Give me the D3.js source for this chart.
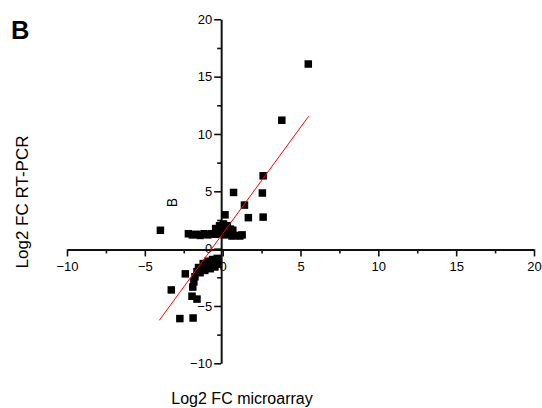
<!DOCTYPE html>
<html>
<head>
<meta charset="utf-8">
<script src="https://cdn.jsdelivr.net/npm/d3@7"></script>
<style>
  html, body { margin: 0; padding: 0; background: #fff; }
  svg { display: block; font-family: "Liberation Sans", Arial, sans-serif; }
</style>
</head>
<body>
<svg id="chart" width="542" height="408"></svg>
<script>
// Log2 fold change: microarray (x) against RT-PCR (y)
const xMicro = [
  5.5, 3.8, 2.6, 2.55, 0.7, 1.4, 1.65, 2.6, 0.15, -4.0,
  -2.2, -1.95, -1.7, -1.45, -1.2, -0.95, -0.7, -0.45, -0.2, 0.1, 0.35, 0.6, 0.85, 1.1, 1.25,
  -0.45, -0.2, 0.05, 0.3, 0.5, -0.05, 0.25, 0.65,
  -0.35, -0.35, -0.65, -0.65, -0.95, -0.95, -1.25, -1.35, -1.55,
  -1.15, -0.8, -0.5, -1.45,
  -2.4, -1.65, -1.78, -1.85, -1.92, -1.97, -1.65, -3.3, -2.75, -1.9
];
const yPCR = [
  16.1, 11.2, 6.35, 4.85, 4.9, 3.8, 2.7, 2.75, 2.95, 1.6,
  1.3, 1.2, 1.25, 1.15, 1.3, 1.2, 1.3, 1.25, 1.35, 1.2, 1.25, 1.1, 1.15, 1.1, 1.2,
  1.75, 2.0, 2.15, 2.0, 1.7, 1.7, 1.55, 1.6,
  -0.85, -1.35, -0.95, -1.4, -1.1, -1.55, -1.3, -1.7, -1.65,
  -1.9, -1.75, -1.6, -2.1,
  -2.2, -2.0, -2.45, -2.9, -3.35, -4.15, -4.4, -3.6, -6.1, -6.05
];

// Linear fit drawn across the range of the microarray values
const fitSlope = 1.855;
const fitIntercept = 1.3;

const xMajorTicks = [-10, -5, 0, 5, 10, 15, 20];
const yMajorTicks = [-10, -5, 0, 5, 10, 15, 20];
const xMinorTicks = [-7.5, -2.5, 2.5, 7.5, 12.5, 17.5];
const yMinorTicks = [-7.5, -2.5, 2.5, 7.5, 12.5, 17.5];

const svg = d3.select("#chart");

const x = d3.scaleLinear().domain([-10, 20]).range([67, 534]);
const y = d3.scaleLinear().domain([-10, 20]).range([363.3, 19.3]);

const axisColor = "#111";
const yAxisX = x(0) - 1.5;
const xAxisY = y(0) + 0.8;

// X axis: minor ticks, then major ticks with labels
const gxMinor = svg.append("g").attr("transform", `translate(0,${xAxisY})`)
  .call(d3.axisBottom(x).tickValues(xMinorTicks).tickSize(4).tickSizeOuter(0).tickFormat(""));
const gx = svg.append("g").attr("transform", `translate(0,${xAxisY})`)
  .call(d3.axisBottom(x).tickValues(xMajorTicks).tickSize(7).tickSizeOuter(0).tickPadding(5)
    .tickFormat(d3.format("d")));

// Y axis: minor ticks, then major ticks with labels
const gyMinor = svg.append("g").attr("transform", `translate(${yAxisX},0)`)
  .call(d3.axisLeft(y).tickValues(yMinorTicks).tickSize(4).tickSizeOuter(0).tickFormat(""));
const gy = svg.append("g").attr("transform", `translate(${yAxisX},0)`)
  .call(d3.axisLeft(y).tickValues(yMajorTicks).tickSize(7).tickSizeOuter(0).tickPadding(2)
    .tickFormat(d3.format("d")));

[gxMinor, gx, gyMinor, gy].forEach(g => {
  g.select(".domain").attr("stroke", axisColor).attr("stroke-width", 2);
  g.selectAll(".tick line").attr("stroke", axisColor).attr("stroke-width", 1.6);
  g.selectAll(".tick text")
    .attr("fill", "#000")
    .style("font-size", "13px")
    .style("font-family", "'Liberation Sans', Arial, sans-serif");
});
gyMinor.select(".domain").remove();
gxMinor.select(".domain").remove();

// Data points as filled squares
const sq = 7.5;
svg.append("g").selectAll("rect")
  .data(xMicro.map((v, i) => [v, yPCR[i]]))
  .join("rect")
  .attr("x", d => x(d[0]) - sq / 2)
  .attr("y", d => y(d[1]) - sq / 2)
  .attr("width", sq)
  .attr("height", sq)
  .attr("fill", "#000");

// Regression line
const [xMin, xMax] = d3.extent(xMicro);
const fitLine = d3.line().x(d => x(d)).y(d => y(fitSlope * d + fitIntercept));
svg.append("path")
  .attr("d", fitLine([xMin - 0.07, xMax + 0.02]))
  .attr("fill", "none")
  .attr("stroke", "#ff0000")
  .attr("stroke-width", 1);

// Axis titles
svg.append("text")
  .attr("x", 242).attr("y", 404)
  .attr("text-anchor", "middle")
  .style("font-size", "16px")
  .attr("fill", "#000")
  .text("Log2 FC microarray");

svg.append("text")
  .attr("transform", "translate(28,202) rotate(-90)")
  .attr("text-anchor", "middle")
  .style("font-size", "17px")
  .attr("fill", "#000")
  .text("Log2 FC RT-PCR");

// Stray rotated label inside the plot
svg.append("text")
  .attr("transform", "translate(176.5,202.5) rotate(-90)")
  .attr("text-anchor", "middle")
  .style("font-size", "14px")
  .attr("fill", "#000")
  .text("B");

// Panel letter
svg.append("text")
  .attr("x", 11).attr("y", 38.5)
  .style("font-size", "25.5px")
  .style("font-weight", "bold")
  .attr("fill", "#000")
  .text("B");
</script>
</body>
</html>
